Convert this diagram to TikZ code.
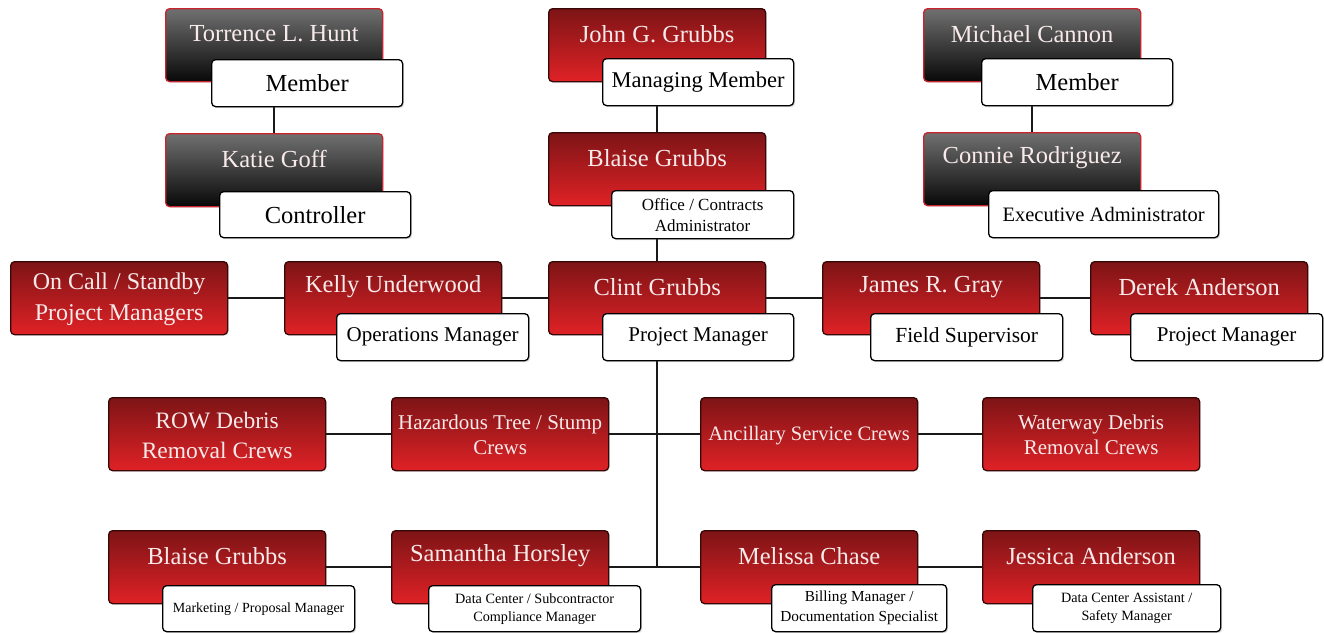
\documentclass[tikz,border=0pt]{standalone}
\usepackage{fontspec}
\setmainfont{Liberation Serif}
\usetikzlibrary{shadows,backgrounds}
\definecolor{redtop}{RGB}{125,20,22}
\definecolor{redbot}{RGB}{224,34,38}
\definecolor{redline}{RGB}{55,8,8}
\definecolor{darktop}{RGB}{112,112,112}
\definecolor{darkbot}{RGB}{8,8,8}
\definecolor{darkline}{RGB}{200,36,46}
\definecolor{nametc}{RGB}{248,234,234}
\definecolor{conn}{RGB}{25,25,25}
\tikzset{
  redbox/.style={rectangle, rounded corners=4pt, draw=redline, line width=1.3pt,
    top color=redtop, bottom color=redbot, minimum width=217pt, minimum height=73pt, inner sep=0pt,
    drop shadow={shadow xshift=1pt, shadow yshift=-1pt, opacity=0.15}},
  darkbox/.style={rectangle, rounded corners=4pt, draw=darkline, line width=1.3pt,
    top color=darktop, bottom color=darkbot, minimum width=217pt, minimum height=73pt, inner sep=0pt,
    drop shadow={shadow xshift=1pt, shadow yshift=-1pt, opacity=0.15}},
  rolebox/.style={rectangle, rounded corners=4pt, draw=black, line width=1.3pt, fill=white,
    minimum height=47pt, inner sep=0pt, align=center,
    drop shadow={shadow xshift=1.5pt, shadow yshift=-1.5pt, opacity=0.25}},
  nametxt/.style={text=nametc, inner sep=0pt, font=\fontsize{24.5}{30}\selectfont, align=center},
  conline/.style={draw=conn, line width=2.5pt},
}
% \person{name}{style}{x}{y}{text}
\newcommand{\person}[5]{%
  \node[#2, anchor=north west] (#1) at (#3,#4) {};
  \node[nametxt] (#1t) at ([yshift=-26pt]#1.north) {#5};}
% \grp{name}{x}{y}{size}{leading}{text}
\newcommand{\grp}[6]{%
  \node[redbox, anchor=north west] (#1) at (#2,#3) {};
  \node[nametxt, font=\fontsize{#4}{#5}\selectfont] (#1t) at ([yshift=-1pt]#1.center) {#6};}
% \role{name}{x}{y}{w}{h}{size}{leading}{text}
\newcommand{\role}[8]{%
  \node[rolebox, anchor=north west, minimum width=#4pt, minimum height=#5pt, font=\fontsize{#6}{#7}\selectfont] (#1) at (#2,#3) {#8};}
\begin{document}
\begin{tikzpicture}[x=1pt,y=-1pt]
\useasboundingbox (0,0) rectangle (1324,632);
% top block
\person{th}{darkbox}{165}{8}{Torrence L. Hunt}
\role{thr}{211}{59}{191}{47}{24.5}{28}{Member}
\person{kg}{darkbox}{165}{133}{Katie Goff}
\role{kgr}{219}{191}{191}{46}{24.5}{28}{Controller}
\person{jg}{redbox}{548}{8}{John G. Grubbs}
\role{jgr}{602}{58}{191}{47}{22.5}{26}{Managing Member}
\person{bg}{redbox}{548}{132}{Blaise Grubbs}
\role{bgr}{611}{190}{182}{48}{17}{21}{Office / Contracts\\Administrator}
\person{mc}{darkbox}{923}{8}{Michael Cannon}
\role{mcr}{981}{58}{191}{47}{24.5}{28}{Member}
\person{cr}{darkbox}{923}{132}{Connie Rodriguez}
\role{crr}{988}{190}{230}{47}{20.5}{24}{Executive Administrator}
% row 2
\grp{oc}{10}{261}{24}{31}{On Call / Standby\\Project Managers}
\person{ku}{redbox}{284}{261}{Kelly Underwood}
\role{kur}{336}{313}{192}{47}{21}{24}{Operations Manager}
\person{cg}{redbox}{548}{261}{Clint Grubbs}
\role{cgr}{602}{313}{191}{47}{21}{24}{Project Manager}
\person{jr}{redbox}{822}{261}{James R. Gray}
\role{jrr}{870}{313}{192}{47}{21.5}{24}{Field Supervisor}
\person{da}{redbox}{1090}{261}{Derek Anderson}
\role{dar}{1130}{313}{192}{47}{21}{24}{Project Manager}
% row 3
\grp{row}{108}{397}{23.5}{30}{ROW Debris\\Removal Crews}
\grp{hz}{391}{397}{21}{25}{Hazardous Tree / Stump\\Crews}
\grp{an}{700}{397}{20.5}{25}{Ancillary Service Crews}
\grp{ww}{982}{397}{21}{25}{Waterway Debris\\Removal Crews}
% row 4
\person{bg2}{redbox}{108}{530}{Blaise Grubbs}
\role{bg2r}{162}{585}{192}{46}{14}{17}{Marketing / Proposal Manager}
\person{sh}{redbox}{391}{530}{Samantha Horsley}
\role{shr}{428}{585}{212}{46}{14.2}{18}{Data Center / Subcontractor\\Compliance Manager}
\person{ms}{redbox}{700}{530}{Melissa Chase}
\role{msr}{771}{584}{175}{47}{15.3}{20}{Billing Manager /\\Documentation Specialist}
\person{ja}{redbox}{982}{530}{Jessica Anderson}
\role{jar}{1032}{584}{188}{47}{14.2}{18}{Data Center Assistant /\\Safety Manager}
% connectors
\coordinate (j3) at (cg.center |- hz.center);
\coordinate (j4) at (cg.center |- sh.center);
\begin{scope}[on background layer]
\fill[white] (0,0) rectangle (1324,632);
\draw[conline] (th.center) -- (kg.center);
\draw[conline] (jg.center) -- (bg.center) -- (cg.center);
\draw[conline] (mc.center) -- (cr.center);
\draw[conline] (oc.center) -- (ku.center) -- (cg.center) -- (jr.center) -- (da.center);
\draw[conline] (cg.center) -- (j3) -- (j4);
\draw[conline] (row.center) -- (hz.center) -- (j3) -- (an.center) -- (ww.center);
\draw[conline] (bg2.center) -- (sh.center) -- (j4) -- (ms.center) -- (ja.center);
\end{scope}
\end{tikzpicture}
\end{document}
